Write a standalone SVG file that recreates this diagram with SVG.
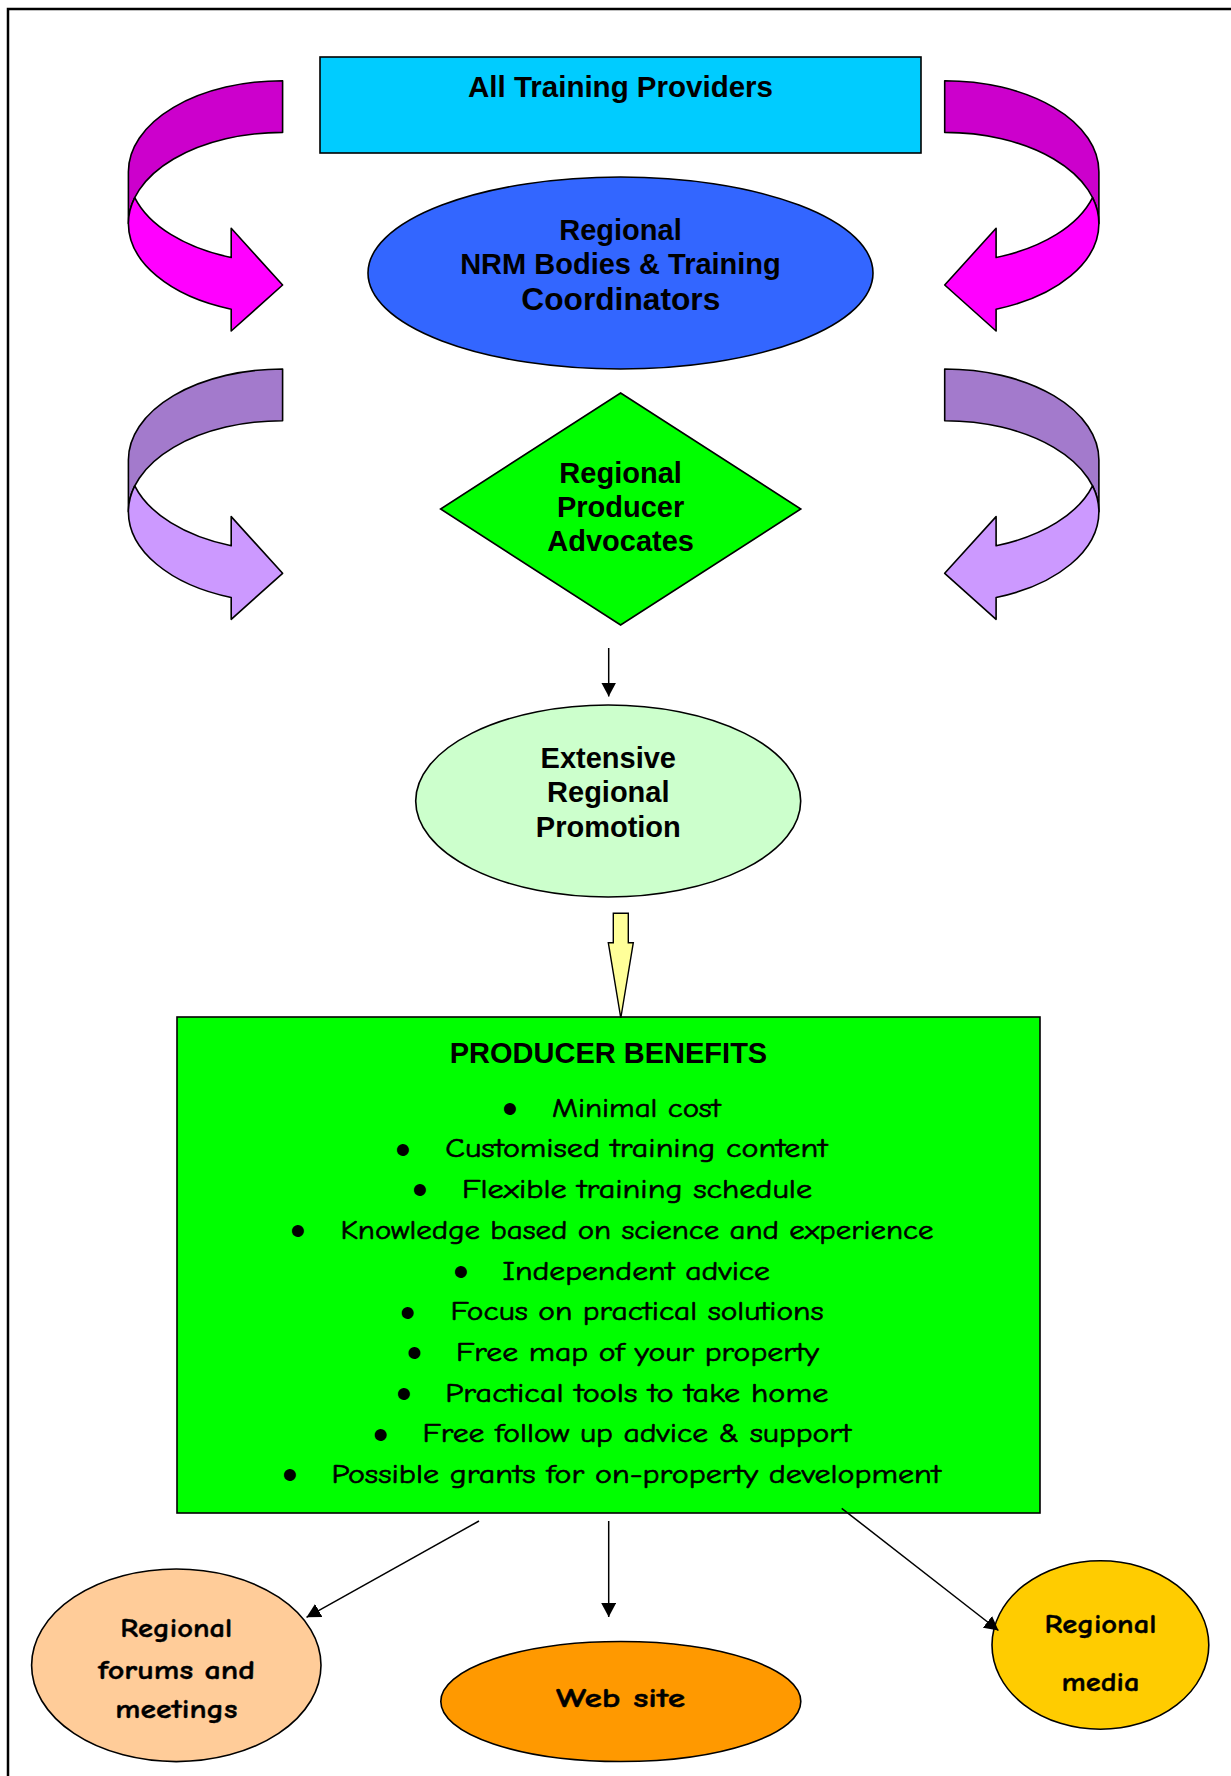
<svg xmlns="http://www.w3.org/2000/svg" xmlns:xlink="http://www.w3.org/1999/xlink" width="1231" height="1776" viewBox="0 0 1231 1776">
<style>
.ar{font-family:"Liberation Sans",Arial,sans-serif;font-weight:bold;font-size:29px;fill:#000;text-anchor:middle}
.cm{font-family:"Comic Sans MS","Comic Neue","Noto Sans",sans-serif;font-size:27px;fill:#000;stroke:#000;stroke-width:0.6}
.cmb{font-family:"Comic Sans MS","Comic Neue","Noto Sans",sans-serif;font-size:27px;font-weight:bold;fill:#000;stroke:#000;stroke-width:0.4;text-anchor:middle}
.bul{font-family:"Liberation Sans",Arial,sans-serif;font-size:44px;fill:#000;text-anchor:middle}
.sh{stroke:#000;stroke-width:1.6}
.conn{stroke:#000;stroke-width:1.5;fill:none}
</style>
<defs>
<marker id="ah" viewBox="0 0 14 15" refX="14" refY="7.5" markerWidth="14" markerHeight="15" markerUnits="userSpaceOnUse" orient="auto">
<path d="M0,0 L14,7.5 L0,15 Z" fill="#000"/>
</marker>
<path id="curlBack" d="M282.6,80.7 A154.2,91 0 0 0 128.4,171.7 L128.4,223.4 A154.2,91 0 0 1 282.6,132.4 Z" stroke="#000" stroke-width="1.6" stroke-linejoin="round"/>
<path id="curlFront" d="M134.75,197.55 A154.2,91 0 0 0 231.2,257.5 L231.2,228.3 L282.6,285 L231.2,331 L231.2,309.2 A154.2,91 0 0 1 128.4,223.4 A154.2,91 0 0 1 134.75,197.55 Z" stroke="#000" stroke-width="1.6" stroke-linejoin="round"/>
</defs>
<rect width="1231" height="1776" fill="#fff"/>
<path d="M8,1776 L8,9 L1231,9" fill="none" stroke="#000" stroke-width="2.5"/>

<g id="curl-top-left"><use xlink:href="#curlBack" fill="#CC00CC"/><use xlink:href="#curlFront" fill="#FF00FF"/></g>
<g id="curl-top-right" transform="translate(1227.3,0) scale(-1,1)"><use xlink:href="#curlBack" fill="#CC00CC"/><use xlink:href="#curlFront" fill="#FF00FF"/></g>
<g id="curl-low-left" transform="translate(0,288.3)"><use xlink:href="#curlBack" fill="#A37ACC"/><use xlink:href="#curlFront" fill="#CC99FF"/></g>
<g id="curl-low-right" transform="translate(1227.3,288.3) scale(-1,1)"><use xlink:href="#curlBack" fill="#A37ACC"/><use xlink:href="#curlFront" fill="#CC99FF"/></g>

<g id="training-providers">
<rect class="sh" x="320" y="57" width="601" height="96" fill="#00CCFF" stroke-width="2"/>
<text class="ar" x="620.5" y="97" style="font-size:29.5px">All Training Providers</text>
</g>

<g id="nrm-bodies">
<ellipse class="sh" cx="620.5" cy="273" rx="252.5" ry="96" fill="#3366FF"/>
<text class="ar" x="620.5" y="240">Regional</text>
<text class="ar" x="620.5" y="274">NRM Bodies &amp; Training</text>
<text class="ar" x="620.8" y="310" style="font-size:31.7px">Coordinators</text>
</g>

<g id="producer-advocates">
<polygon class="sh" points="620.6,393 800.8,509 620.6,625 440.6,509" fill="#00FF00"/>
<text class="ar" x="620.6" y="483.3">Regional</text>
<text class="ar" x="620.6" y="516.7">Producer</text>
<text class="ar" x="620.6" y="551">Advocates</text>
</g>

<g id="regional-promotion">
<ellipse class="sh" cx="608.2" cy="801" rx="192.5" ry="96" fill="#CCFFCC"/>
<text class="ar" x="608.3" y="767.7">Extensive</text>
<text class="ar" x="608.3" y="802.3">Regional</text>
<text class="ar" x="608.3" y="836.7">Promotion</text>
</g>

<g id="producer-benefits">
<rect class="sh" x="177" y="1017" width="863" height="496" fill="#00FF00" stroke-width="2"/>
<text class="ar" x="608.5" y="1063">PRODUCER BENEFITS</text>
<text class="bul" x="510" y="1124">•</text><text class="cm" x="552" y="1116.7" textLength="168.5" lengthAdjust="spacingAndGlyphs">Minimal cost</text>
<text class="bul" x="403" y="1164.7">•</text><text class="cm" x="445.3" y="1157.4" textLength="382" lengthAdjust="spacingAndGlyphs">Customised training content</text>
<text class="bul" x="420" y="1205.4">•</text><text class="cm" x="462" y="1198.1" textLength="350" lengthAdjust="spacingAndGlyphs">Flexible training schedule</text>
<text class="bul" x="298" y="1246.1">•</text><text class="cm" x="340.5" y="1238.8" textLength="593" lengthAdjust="spacingAndGlyphs">Knowledge based on science and experience</text>
<text class="bul" x="461" y="1286.8">•</text><text class="cm" x="502.5" y="1279.5" textLength="267.5" lengthAdjust="spacingAndGlyphs">Independent advice</text>
<text class="bul" x="407.6" y="1327.5">•</text><text class="cm" x="450.5" y="1320.2" textLength="373" lengthAdjust="spacingAndGlyphs">Focus on practical solutions</text>
<text class="bul" x="414.4" y="1368.2">•</text><text class="cm" x="456" y="1360.9" textLength="363" lengthAdjust="spacingAndGlyphs">Free map of your property</text>
<text class="bul" x="404" y="1408.9">•</text><text class="cm" x="445.3" y="1401.6" textLength="383" lengthAdjust="spacingAndGlyphs">Practical tools to take home</text>
<text class="bul" x="380.7" y="1449.6">•</text><text class="cm" x="422.5" y="1442.3" textLength="428.5" lengthAdjust="spacingAndGlyphs">Free follow up advice &amp; support</text>
<text class="bul" x="290" y="1490.3">•</text><text class="cm" x="331.5" y="1483" textLength="609.5" lengthAdjust="spacingAndGlyphs">Possible grants for on-property development</text>
</g>

<g id="regional-forums">
<ellipse class="sh" cx="176.3" cy="1665.3" rx="144.7" ry="96.3" fill="#FFCC99"/>
<text class="cmb" x="176.3" y="1637.3" textLength="112" lengthAdjust="spacingAndGlyphs">Regional</text>
<text class="cmb" x="176.5" y="1679" textLength="157" lengthAdjust="spacingAndGlyphs">forums and</text>
<text class="cmb" x="176.3" y="1718.3" textLength="122" lengthAdjust="spacingAndGlyphs">meetings</text>
</g>

<g id="web-site">
<ellipse class="sh" cx="620.8" cy="1701.5" rx="180" ry="60" fill="#FF9900"/>
<text class="cmb" x="620.6" y="1706.5" textLength="129" lengthAdjust="spacingAndGlyphs">Web site</text>
</g>

<g id="regional-media">
<ellipse class="sh" cx="1100.4" cy="1645" rx="108.4" ry="84.2" fill="#FFCC00"/>
<text class="cmb" x="1100.4" y="1633.3" textLength="112" lengthAdjust="spacingAndGlyphs">Regional</text>
<text class="cmb" x="1100.5" y="1690.7" textLength="78" lengthAdjust="spacingAndGlyphs">media</text>
</g>

<g id="connectors">
<line class="conn" x1="608.7" y1="648" x2="608.7" y2="696.5" marker-end="url(#ah)"/>
<polygon points="613.3,913.3 628.3,913.3 628.3,942.7 633.3,942.7 620.8,1018 608.3,942.7 613.3,942.7" fill="#FFFF99" stroke="#000" stroke-width="1.4" stroke-linejoin="miter"/>
<line class="conn" x1="479" y1="1521" x2="306.5" y2="1617.3" marker-end="url(#ah)"/>
<line class="conn" x1="608.7" y1="1521" x2="608.7" y2="1617" marker-end="url(#ah)"/>
<line class="conn" x1="841.7" y1="1508.3" x2="998.5" y2="1630.5" marker-end="url(#ah)"/>
</g>
</svg>
